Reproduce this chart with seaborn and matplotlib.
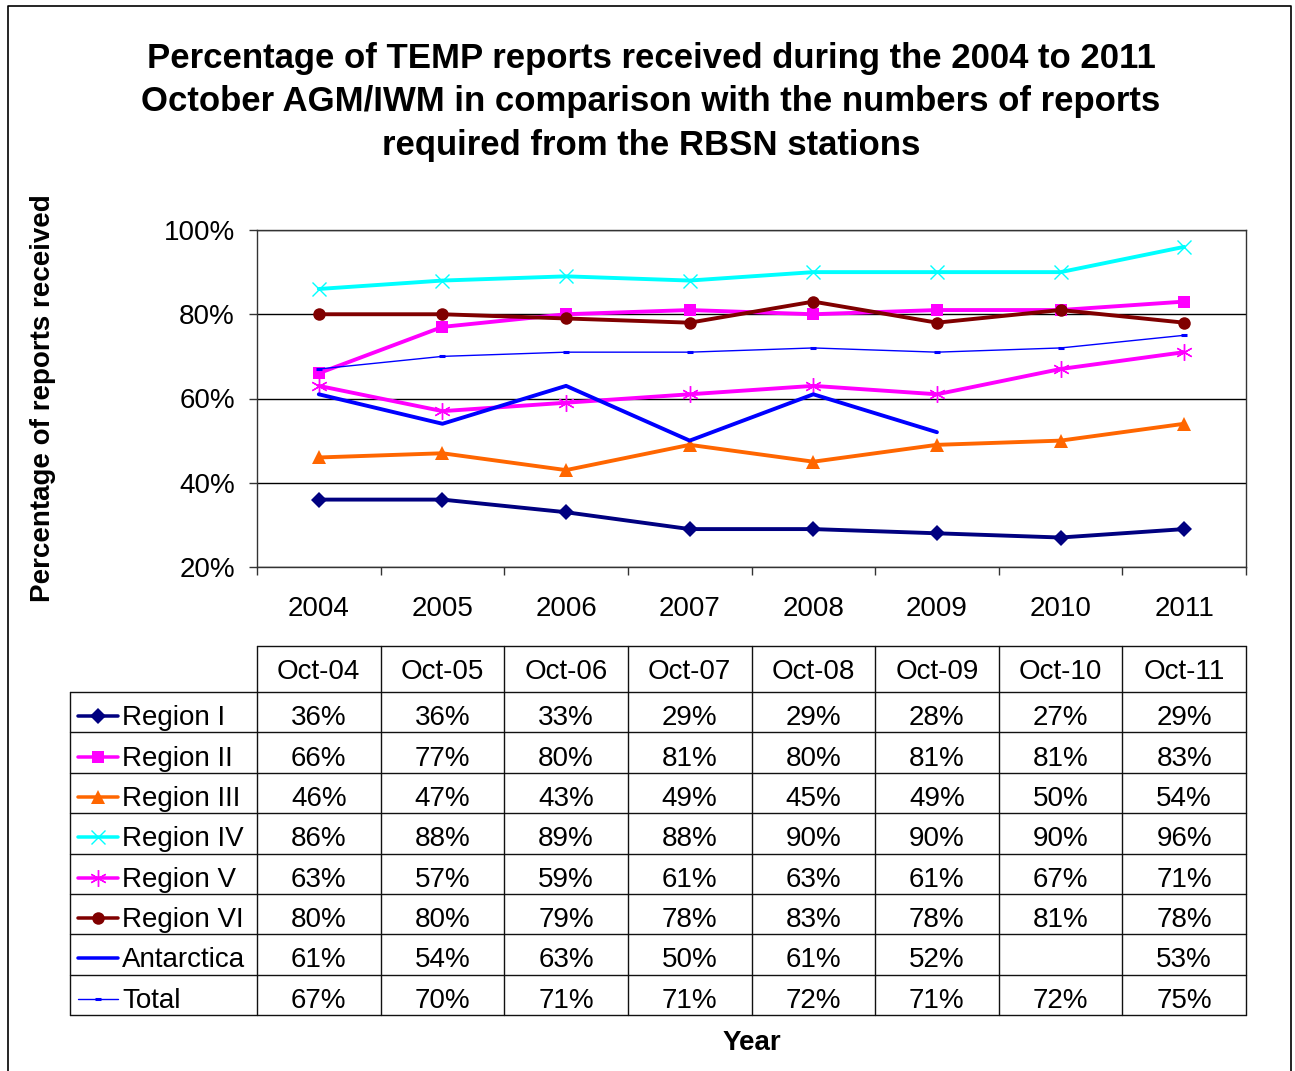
import matplotlib
matplotlib.use("Agg")
import numpy as np
import pandas as pd
import matplotlib.pyplot as plt
from matplotlib.lines import Line2D
from matplotlib.ticker import FuncFormatter
import seaborn as sns

years = ["2004", "2005", "2006", "2007", "2008", "2009", "2010", "2011"]
months = ["Oct-04", "Oct-05", "Oct-06", "Oct-07", "Oct-08", "Oct-09", "Oct-10", "Oct-11"]

region_i = [36, 36, 33, 29, 29, 28, 27, 29]
region_ii = [66, 77, 80, 81, 80, 81, 81, 83]
region_iii = [46, 47, 43, 49, 45, 49, 50, 54]
region_iv = [86, 88, 89, 88, 90, 90, 90, 96]
region_v = [63, 57, 59, 61, 63, 61, 67, 71]
region_vi = [80, 80, 79, 78, 83, 78, 81, 78]
antarctica = [61, 54, 63, 50, 61, 52, np.nan, 53]
total = [67, 70, 71, 71, 72, 71, 72, 75]

series_names = ["Region I", "Region II", "Region III", "Region IV",
                "Region V", "Region VI", "Antarctica", "Total"]
series_values = [region_i, region_ii, region_iii, region_iv,
                 region_v, region_vi, antarctica, total]

# styles (excel-like)
asterisk = (6, 2, 0)
styles = {
    "Region I":   dict(color="#000080", marker="D", ms=8, lw=2.8, mew=0),
    "Region II":  dict(color="#FF00FF", marker="s", ms=9, lw=2.8, mew=0),
    "Region III": dict(color="#FF6600", marker="^", ms=10, lw=2.8, mew=0),
    "Region IV":  dict(color="#00FFFF", marker="x", ms=10, lw=2.8, mew=1.0),
    "Region V":   dict(color="#FF00FF", marker=asterisk, ms=12, lw=2.8, mew=1.0),
    "Region VI":  dict(color="#800000", marker="o", ms=9, lw=2.8, mew=0),
    "Antarctica": dict(color="#0000FF", marker=None, ms=0, lw=2.8, mew=0),
    "Total":      dict(color="#0000FF", marker="_", ms=4, lw=1.0, mew=2.2),
}

sns.set_theme(style="white")
plt.rcParams['font.family'] = ['Liberation Sans', 'DejaVu Sans']
plt.rcParams['text.color'] = 'black'
plt.rcParams['xtick.color'] = 'black'
plt.rcParams['ytick.color'] = 'black'

W, H = 1295, 1071
fig = plt.figure(figsize=(W / 100, H / 100), dpi=100)

# plot area in pixel terms
px_left, px_right, px_top, px_bottom = 257, 1246, 230, 567
ax = fig.add_axes([px_left / W, 1 - px_bottom / H,
                   (px_right - px_left) / W, (px_bottom - px_top) / H])

xpos = np.arange(len(years))
for name, vals in zip(series_names, series_values):
    st = styles[name]
    df = pd.DataFrame({"x": xpos, "y": vals})
    # break line at missing values
    grp = df["y"].isna().cumsum()
    for _, seg in df[df["y"].notna()].groupby(grp[df["y"].notna()]):
        if len(seg) < 2 and st["marker"] is None:
            continue
        sns.lineplot(data=seg, x="x", y="y", ax=ax, color=st["color"],
                     linewidth=st["lw"], marker=st["marker"],
                     markersize=st["ms"], markeredgewidth=st["mew"],
                     markeredgecolor=st["color"], sort=False,
                     estimator=None, legend=False, zorder=3)

ax.set_xlim(-0.5, len(years) - 0.5)
ax.set_ylim(20, 100)
ax.set_yticks([20, 40, 60, 80, 100])
ax.yaxis.set_major_formatter(FuncFormatter(lambda v, p: f"{v:.0f}%"))
ax.grid(axis="y", color="black", linewidth=1.0)
ax.grid(axis="x", visible=False)

ax.set_xticks(np.arange(len(years) + 1) - 0.5)
ax.set_xticklabels([])
ax.set_xticks(xpos, minor=True)
ax.set_xticklabels(years, minor=True)
ax.tick_params(axis="x", which="major", length=6, width=1, color="#333333",
               direction="out", bottom=True)
ax.tick_params(axis="x", which="minor", length=0, pad=21, labelsize=20,
               labelcolor="black")
ax.tick_params(axis="y", length=6, width=1, color="#333333",
               direction="out", left=True, pad=10, labelsize=20,
               labelcolor="black")
ax.set_xlabel("")
ax.set_ylabel("")
for sp in ax.spines.values():
    sp.set_visible(True)
    sp.set_color("#333333")
    sp.set_linewidth(1.0)

# overlay for table, labels and frame (pixel coordinates)
ov = fig.add_axes([0, 0, 1, 1], zorder=-1)
ov.set_xlim(0, W)
ov.set_ylim(H, 0)
ov.axis("off")

lab_left = 70
head_top, head_bottom, tab_bottom = 646, 692, 1015
n_rows = len(series_names)
row_h = (tab_bottom - head_bottom) / n_rows
col_w = (px_right - px_left) / len(years)
lc = "#111111"
lw_t = 1.0

ov.plot([px_left, px_right], [head_top, head_top], color=lc, lw=lw_t)
for i in range(n_rows + 1):
    y = head_bottom + i * row_h
    ov.plot([lab_left, px_right], [y, y], color=lc, lw=lw_t)
ov.plot([lab_left, lab_left], [head_bottom, tab_bottom], color=lc, lw=lw_t)
for j in range(len(years) + 1):
    x = px_left + j * col_w
    ov.plot([x, x], [head_top, tab_bottom], color=lc, lw=lw_t)

for j, m in enumerate(months):
    ov.text(px_left + (j + 0.5) * col_w, (head_top + head_bottom) / 2 + 3, m,
            ha="center", va="center", fontsize=20, color="black")

for i, (name, vals) in enumerate(zip(series_names, series_values)):
    yc = head_bottom + (i + 0.5) * row_h + 6
    st = styles[name]
    ov.add_line(Line2D([78, 118], [yc - 2, yc - 2], color=st["color"],
                       lw=st["lw"] * 0.9 if st["lw"] > 1 else st["lw"]))
    if st["marker"] is not None:
        ov.add_line(Line2D([98], [yc - 2], color=st["color"], lw=0,
                           marker=st["marker"], markersize=st["ms"],
                           markeredgewidth=st["mew"],
                           markeredgecolor=st["color"]))
    ov.text(122, yc, name, ha="left", va="center", fontsize=20, color="black")
    for j, v in enumerate(vals):
        if pd.isna(v):
            continue
        ov.text(px_left + (j + 0.5) * col_w, yc, f"{v:.0f}%",
                ha="center", va="center", fontsize=20, color="black")

# titles
fig.text(651 / W, 1 - 102 / H,
         "Percentage of TEMP reports received during the 2004 to 2011\n"
         "October AGM/IWM in comparison with the numbers of reports\n"
         "required from the RBSN stations",
         ha="center", va="center", fontsize=25, fontweight="bold",
         linespacing=1.41)
fig.text(43 / W, 1 - 398 / H, "Percentage of reports received",
         rotation=90, ha="center", va="center", fontsize=20,
         fontweight="bold")
fig.text(752 / W, 1 - 1043 / H, "Year", ha="center", va="center",
         fontsize=20, fontweight="bold")

# outer frame
ov.plot([8, 8, 1291, 1291], [H + 5, 6, 6, H + 5], color="black", lw=1.2,
        clip_on=False)

fig.savefig("out.png", dpi=100)
